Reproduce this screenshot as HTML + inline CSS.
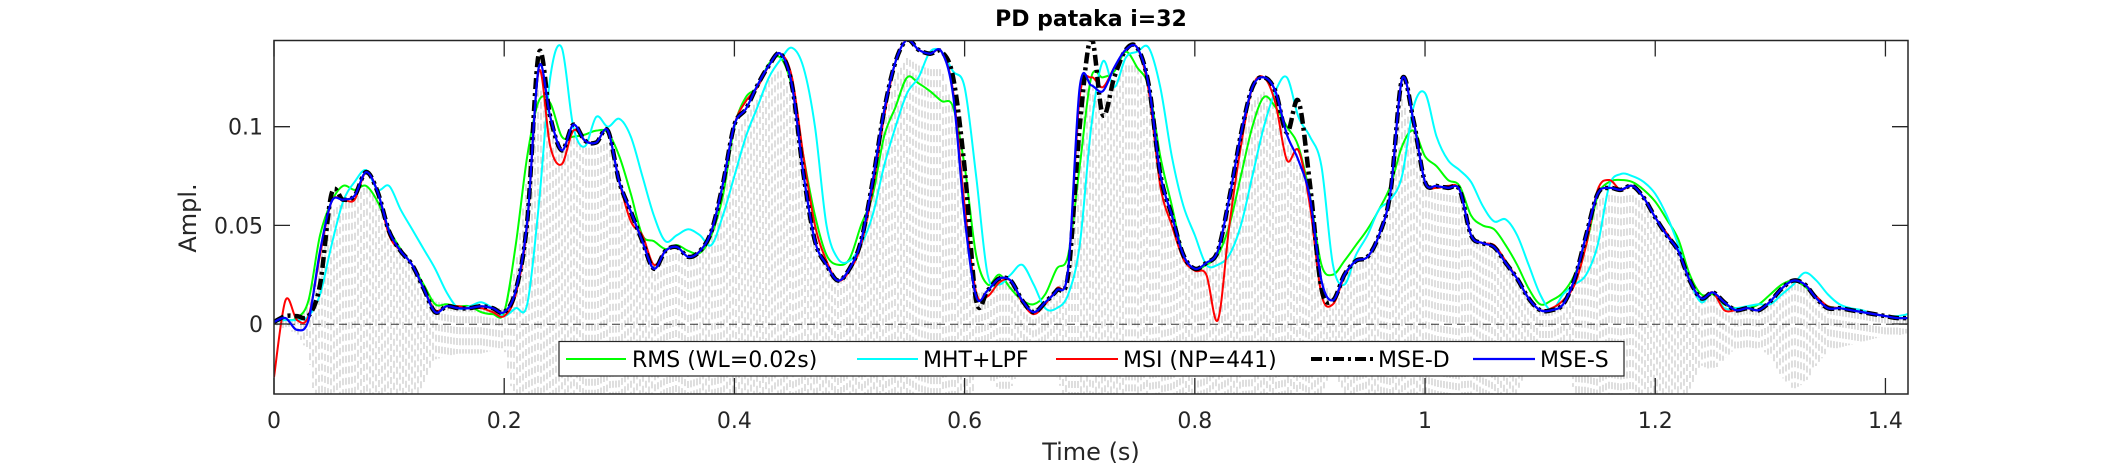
<!DOCTYPE html>
<html><head><meta charset="utf-8"><title>PD pataka i=32</title>
<style>
html,body{margin:0;padding:0;background:#fff;width:2109px;height:469px;overflow:hidden;}
svg{display:block;font-family:"DejaVu Sans","Liberation Sans",sans-serif;}
</style></head>
<body>
<svg id="chart" width="2109" height="469" viewBox="0 0 2109 469" xmlns="http://www.w3.org/2000/svg">
<rect x="0" y="0" width="2109" height="469" fill="#fff"/>
<defs><clipPath id="plotclip"><rect x="274" y="40.5" width="1634" height="353.5"/></clipPath></defs>
<text x="1091" y="26" font-size="22" font-weight="bold" text-anchor="middle" fill="#000">PD pataka i=32</text>
<g id="wave" clip-path="url(#plotclip)"></g>
<line x1="274" x2="1908" y1="324.3" y2="324.3" stroke="#333" stroke-width="1" stroke-dasharray="8,5"/>
<g id="series" clip-path="url(#plotclip)"></g>
<rect x="274" y="40.5" width="1634" height="353.5" fill="none" stroke="#262626" stroke-width="1.5"/>
<g id="ticks"></g>
<text transform="translate(196,218) rotate(-90)" font-size="24" text-anchor="middle" fill="#262626">Ampl.</text>
<text x="1091" y="460" font-size="24" text-anchor="middle" fill="#262626">Time (s)</text>
<g>
<rect x="559" y="341.5" width="1065" height="34.5" fill="#fff" stroke="#262626" stroke-width="1.2"/>
<line x1="566" x2="626" y1="359" y2="359" stroke="#00ff00" stroke-width="2"/>
<text x="632" y="367" font-size="22" fill="#000">RMS (WL=0.02s)</text>
<line x1="857" x2="918" y1="359" y2="359" stroke="#00ffff" stroke-width="2"/>
<text x="923" y="367" font-size="22" fill="#000">MHT+LPF</text>
<line x1="1056" x2="1118" y1="359" y2="359" stroke="#ff0000" stroke-width="2"/>
<text x="1123" y="367" font-size="22" fill="#000">MSI (NP=441)</text>
<line x1="1311" x2="1373" y1="359" y2="359" stroke="#000" stroke-width="4" stroke-dasharray="11,4,3,4"/>
<text x="1378" y="367" font-size="22" fill="#000">MSE-D</text>
<line x1="1473" x2="1535" y1="359" y2="359" stroke="#0000ff" stroke-width="2.2"/>
<text x="1540" y="367" font-size="22" fill="#000">MSE-S</text>
</g>
</svg>
<script>
const xTicks = [0, 0.2, 0.4, 0.6, 0.8, 1, 1.2, 1.4];
const xTickLabels = ["0", "0.2", "0.4", "0.6", "0.8", "1", "1.2", "1.4"];
const yTicks = [0, 0.05, 0.1];
const yTickLabels = ["0", "0.05", "0.1"];
const tStart = 0;
const tStep = 0.01;
const mseS = [0.001,0.003,-0.003,0.002,0.037,0.062,0.063,0.065,0.077,0.067,
0.047,0.037,0.030,0.018,0.006,0.009,0.008,0.008,0.009,0.008,
0.006,0.017,0.052,0.130,0.105,0.088,0.101,0.093,0.092,0.098,
0.072,0.057,0.042,0.028,0.037,0.039,0.034,0.037,0.047,0.071,
0.101,0.109,0.121,0.131,0.137,0.121,0.076,0.042,0.030,0.022,
0.028,0.042,0.072,0.108,0.133,0.144,0.139,0.137,0.138,0.116,
0.054,0.014,0.017,0.023,0.022,0.012,0.006,0.011,0.017,0.028,
0.120,0.121,0.118,0.130,0.139,0.140,0.121,0.076,0.055,0.035,
0.028,0.031,0.037,0.064,0.096,0.120,0.125,0.118,0.096,0.083,
0.064,0.022,0.012,0.025,0.032,0.034,0.045,0.067,0.124,0.103,
0.072,0.070,0.069,0.068,0.045,0.041,0.039,0.031,0.023,0.013,
0.007,0.007,0.010,0.023,0.045,0.066,0.069,0.068,0.070,0.064,
0.054,0.045,0.037,0.022,0.013,0.016,0.011,0.007,0.008,0.007,
0.0115,0.018,0.022,0.020,0.013,0.008,0.008,0.007,0.006,0.005,
0.004,0.003,0.003];
const mseD = [0.001,0.004,0.004,0.004,0.020,0.066,0.063,0.065,0.077,0.067,
0.047,0.037,0.030,0.018,0.006,0.009,0.008,0.008,0.009,0.008,
0.006,0.017,0.052,0.137,0.105,0.088,0.101,0.093,0.092,0.098,
0.072,0.057,0.042,0.028,0.037,0.039,0.034,0.037,0.047,0.071,
0.101,0.109,0.121,0.131,0.137,0.121,0.076,0.042,0.030,0.022,
0.028,0.042,0.072,0.108,0.133,0.144,0.139,0.137,0.138,0.125,
0.079,0.012,0.017,0.023,0.022,0.012,0.006,0.011,0.017,0.025,
0.100,0.145,0.106,0.125,0.139,0.140,0.121,0.076,0.055,0.035,
0.028,0.031,0.037,0.064,0.096,0.120,0.125,0.118,0.097,0.113,
0.071,0.018,0.012,0.025,0.032,0.034,0.045,0.067,0.124,0.103,
0.072,0.070,0.069,0.068,0.045,0.041,0.039,0.031,0.023,0.013,
0.007,0.007,0.010,0.023,0.045,0.066,0.069,0.068,0.070,0.064,
0.054,0.045,0.037,0.022,0.013,0.016,0.011,0.007,0.008,0.007,
0.0115,0.018,0.022,0.020,0.013,0.008,0.008,0.007,0.006,0.005,
0.004,0.003,0.003];
const msi = [-0.027,0.012,0.002,0.004,0.035,0.062,0.063,0.063,0.077,0.067,
0.045,0.037,0.030,0.018,0.007,0.009,0.009,0.008,0.008,0.006,
0.004,0.015,0.050,0.128,0.090,0.081,0.098,0.093,0.092,0.098,
0.072,0.052,0.045,0.030,0.037,0.039,0.034,0.037,0.047,0.071,
0.101,0.113,0.120,0.131,0.137,0.125,0.085,0.050,0.032,0.022,
0.027,0.040,0.068,0.105,0.133,0.144,0.139,0.137,0.138,0.118,
0.060,0.016,0.014,0.021,0.022,0.011,0.005,0.010,0.018,0.027,
0.115,0.125,0.120,0.130,0.139,0.140,0.118,0.070,0.050,0.033,
0.027,0.025,0.002,0.050,0.090,0.120,0.125,0.112,0.083,0.088,
0.060,0.015,0.010,0.024,0.032,0.034,0.045,0.067,0.124,0.103,
0.072,0.069,0.070,0.068,0.045,0.041,0.040,0.032,0.023,0.013,
0.007,0.008,0.012,0.020,0.040,0.068,0.073,0.068,0.070,0.064,
0.054,0.046,0.037,0.022,0.013,0.016,0.007,0.007,0.008,0.007,
0.0115,0.018,0.022,0.020,0.014,0.009,0.008,0.007,0.006,0.005,
0.004,0.003,0.003];
const rms = [0.002,0.002,0.003,0.012,0.045,0.062,0.070,0.068,0.070,0.062,
0.048,0.038,0.030,0.020,0.010,0.010,0.009,0.009,0.006,0.005,
0.006,0.040,0.085,0.113,0.112,0.095,0.095,0.096,0.098,0.097,
0.085,0.066,0.045,0.042,0.038,0.040,0.037,0.036,0.045,0.065,
0.100,0.115,0.120,0.132,0.135,0.120,0.085,0.055,0.035,0.030,
0.033,0.050,0.065,0.095,0.110,0.125,0.122,0.118,0.113,0.110,
0.080,0.035,0.020,0.025,0.018,0.012,0.010,0.015,0.028,0.035,
0.080,0.125,0.125,0.128,0.138,0.130,0.120,0.085,0.060,0.035,
0.028,0.030,0.035,0.050,0.075,0.100,0.115,0.110,0.100,0.090,
0.065,0.030,0.025,0.032,0.040,0.048,0.058,0.070,0.090,0.098,
0.085,0.080,0.073,0.070,0.055,0.050,0.048,0.040,0.030,0.018,
0.010,0.012,0.016,0.025,0.040,0.065,0.072,0.073,0.072,0.068,
0.062,0.053,0.043,0.025,0.015,0.015,0.010,0.008,0.008,0.010,
0.015,0.020,0.022,0.019,0.013,0.009,0.008,0.007,0.006,0.005,
0.004,0.003,0.003];
const mht = [0.001,0.002,0.002,0.004,0.015,0.040,0.062,0.072,0.078,0.068,
0.070,0.058,0.048,0.038,0.028,0.016,0.008,0.009,0.011,0.008,
0.004,0.008,0.010,0.060,0.125,0.140,0.100,0.090,0.105,0.100,
0.104,0.095,0.075,0.055,0.042,0.045,0.048,0.045,0.040,0.055,
0.075,0.095,0.110,0.125,0.134,0.140,0.130,0.100,0.050,0.033,
0.032,0.040,0.055,0.080,0.100,0.117,0.125,0.138,0.138,0.128,
0.120,0.075,0.025,0.020,0.025,0.030,0.020,0.008,0.008,0.015,
0.040,0.100,0.133,0.120,0.135,0.138,0.140,0.120,0.085,0.060,
0.045,0.030,0.030,0.035,0.050,0.075,0.100,0.118,0.125,0.105,
0.095,0.080,0.030,0.020,0.035,0.045,0.058,0.063,0.075,0.110,
0.117,0.095,0.083,0.078,0.072,0.060,0.052,0.053,0.045,0.030,
0.015,0.007,0.015,0.020,0.025,0.040,0.070,0.076,0.075,0.072,
0.066,0.055,0.040,0.022,0.011,0.016,0.008,0.008,0.009,0.010,
0.010,0.015,0.020,0.026,0.022,0.015,0.010,0.008,0.007,0.005,
0.004,0.004,0.005];
const waveEnv = [0.000,0.002,0.003,0.010,0.040,0.060,0.065,0.066,0.074,0.066,
0.050,0.038,0.030,0.020,0.012,0.011,0.010,0.010,0.010,0.009,
0.008,0.030,0.080,0.128,0.110,0.092,0.100,0.094,0.094,0.097,
0.075,0.058,0.044,0.032,0.036,0.038,0.034,0.036,0.046,0.070,
0.100,0.110,0.120,0.130,0.136,0.120,0.078,0.045,0.030,0.024,
0.028,0.042,0.070,0.106,0.132,0.142,0.138,0.136,0.136,0.115,
0.055,0.016,0.018,0.022,0.022,0.013,0.008,0.012,0.018,0.028,
0.118,0.130,0.118,0.128,0.138,0.138,0.120,0.076,0.055,0.036,
0.028,0.030,0.036,0.062,0.095,0.118,0.124,0.117,0.096,0.090,
0.064,0.024,0.014,0.025,0.032,0.034,0.045,0.066,0.120,0.102,
0.072,0.070,0.069,0.068,0.046,0.042,0.039,0.031,0.023,0.014,
0.008,0.008,0.011,0.023,0.045,0.066,0.069,0.068,0.069,0.064,
0.054,0.045,0.037,0.022,0.014,0.016,0.012,0.008,0.009,0.008,
0.011,0.018,0.022,0.020,0.014,0.009,0.008,0.007,0.006,0.005,
0.004,0.004,0.003];

const X0 = 274, X1 = 1908, Y0 = 394, Y1 = 40.5;
const xMin = 0, xMax = 1.4196, yMin = -0.0355, yMax = 0.1437;
function xs(t){ return X0 + (t - xMin) / (xMax - xMin) * (X1 - X0); }
function ys(v){ return Y0 - (v - yMin) / (yMax - yMin) * (Y0 - Y1); }
const NS = "http://www.w3.org/2000/svg";

function smoothPath(vals){
  const pts = vals.map((v, i) => [xs(tStart + i * tStep), ys(v)]);
  let d = "M" + pts[0][0].toFixed(2) + "," + pts[0][1].toFixed(2);
  for (let i = 0; i < pts.length - 1; i++) {
    const p0 = pts[Math.max(0, i - 1)], p1 = pts[i], p2 = pts[i + 1], p3 = pts[Math.min(pts.length - 1, i + 2)];
    const c1x = p1[0] + (p2[0] - p0[0]) / 6, c1y = p1[1] + (p2[1] - p0[1]) / 6;
    const c2x = p2[0] - (p3[0] - p1[0]) / 6, c2y = p2[1] - (p3[1] - p1[1]) / 6;
    d += " C" + c1x.toFixed(2) + "," + c1y.toFixed(2) + " " + c2x.toFixed(2) + "," + c2y.toFixed(2) + " " + p2[0].toFixed(2) + "," + p2[1].toFixed(2);
  }
  return d;
}
function envAt(t){
  const f = (t - tStart) / tStep;
  const i = Math.max(0, Math.min(waveEnv.length - 2, Math.floor(f)));
  const r = Math.min(1, Math.max(0, f - i));
  return waveEnv[i] * (1 - r) + waveEnv[i + 1] * r;
}

const wave = document.getElementById('wave');
let wd = "";
for (let px = X0; px <= X1; px += 3) {
  const t = xMin + (px - X0) / (X1 - X0) * (xMax - xMin);
  const e = envAt(t);
  const lo = Math.max(yMin, -e * 1.5);
  wd += "M" + px.toFixed(1) + "," + ys(Math.min(yMax, e * 0.95)).toFixed(1) + "V" + ys(lo).toFixed(1);
}
const wp = document.createElementNS(NS, 'path');


wp.setAttribute('d', wd);
wp.setAttribute('stroke', '#c4c4c4');
wp.setAttribute('stroke-width', '1.1');
wp.setAttribute('stroke-dasharray', '7,4');
wp.setAttribute('fill', 'none');
wave.appendChild(wp);

const series = document.getElementById('series');
function addLine(vals, color, width, dash){
  const p = document.createElementNS(NS, 'path');
  p.setAttribute('d', smoothPath(vals));
  p.setAttribute('stroke', color);
  p.setAttribute('stroke-width', width);
  p.setAttribute('fill', 'none');
  p.setAttribute('stroke-linejoin', 'round');
  if (dash) p.setAttribute('stroke-dasharray', dash);
  series.appendChild(p);
  return p;
}
let el;
el = addLine(rms, '#00ff00', 2, null);


el = addLine(mht, '#00ffff', 2, null);


el = addLine(msi, '#ff0000', 2, null);


el = addLine(mseD, '#000000', 4.5, '11,4,3,4');


el = addLine(mseS, '#0000ff', 2.2, null);



const ticks = document.getElementById('ticks');
xTicks.forEach((t, i) => {
  const x = xs(t);
  const tk = document.createElementNS(NS, 'path');
  
  
  tk.setAttribute('d', 'M' + x + ',' + Y0 + 'V' + (Y0 - 16) + 'M' + x + ',' + Y1 + 'V' + (Y1 + 16));
  tk.setAttribute('stroke', '#262626');
  tk.setAttribute('stroke-width', '1.3');
  ticks.appendChild(tk);
  const lb = document.createElementNS(NS, 'text');
  
  
  lb.setAttribute('x', x);
  lb.setAttribute('y', 428);
  lb.setAttribute('font-size', '22');
  lb.setAttribute('text-anchor', 'middle');
  lb.setAttribute('fill', '#262626');
  lb.textContent = xTickLabels[i];
  ticks.appendChild(lb);
});
yTicks.forEach((v, i) => {
  const y = ys(v);
  const tk = document.createElementNS(NS, 'path');
  
  
  tk.setAttribute('d', 'M' + X0 + ',' + y + 'H' + (X0 + 16) + 'M' + X1 + ',' + y + 'H' + (X1 - 16));
  tk.setAttribute('stroke', '#262626');
  tk.setAttribute('stroke-width', '1.3');
  ticks.appendChild(tk);
  const lb = document.createElementNS(NS, 'text');
  
  
  lb.setAttribute('x', 263);
  lb.setAttribute('y', y + 8);
  lb.setAttribute('font-size', '22');
  lb.setAttribute('text-anchor', 'end');
  lb.setAttribute('fill', '#262626');
  lb.textContent = yTickLabels[i];
  ticks.appendChild(lb);
});
</script>
</body></html>
